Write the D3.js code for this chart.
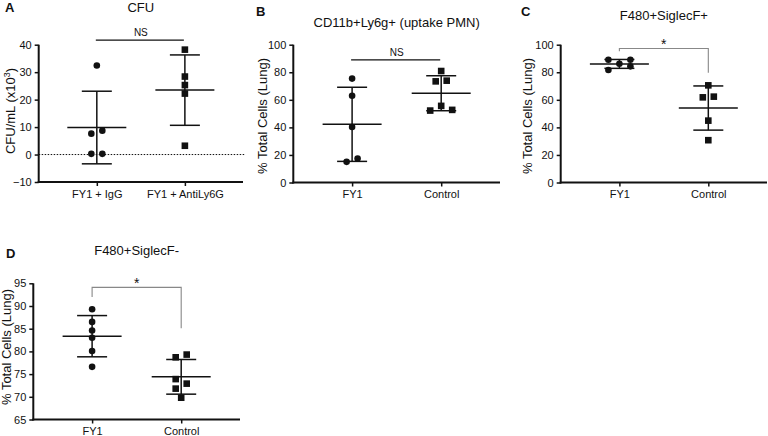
<!DOCTYPE html>
<html><head><meta charset="utf-8">
<script src="https://cdn.jsdelivr.net/npm/d3@7"></script>
<style>
body{margin:0;background:#fff}
svg{display:block}
text{font-family: Arial, "Liberation Sans", sans-serif; fill:#111}
</style>
</head><body><svg id="c" width="768" height="436"></svg>
<script>
// ---------------- data ----------------
const panelLetters = ["A", "B", "C", "D"];
const panelTitles = ["CFU", "CD11b+Ly6g+ (uptake PMN)", "F480+SiglecF+", "F480+SiglecF-"];
const catsA = ["FY1 + IgG", "FY1 + AntiLy6G"];
const catsBCD = ["FY1", "Control"];
const A_IgG = [32.4, 7.6, 8.7, 0.25, 0.25];
const A_Anti = [38.2, 28.4, 25.3, 22.2, 3.2];
const B_FY1 = [75.4, 63.0, 40.3, 15.0, 17.4];
const B_Control = [80.9, 73.4, 73.9, 55.6, 52.7, 52.2];
const C_FY1 = [86.2, 89.1, 84.3, 89.1, 81.6];
const C_Control = [70.5, 61.8, 62.3, 44.9, 30.7];
const D_FY1 = [89.3, 86.5, 84.6, 83.0, 80.1, 76.6];
const D_Control = [78.7, 79.3, 73.9, 72.9, 71.8, 69.8];
const ticksA = [-10, 0, 10, 20, 30, 40];
const ticksBC = [0, 20, 40, 60, 80, 100];
const ticksD = [65, 70, 75, 80, 85, 90, 95];
const yLabelMain = ["CFU/mL (x10", "% Total Cells (Lung)", "% Total Cells (Lung)", "% Total Cells (Lung)"];
const compLabels = ["NS", "NS", "*", "*"];
// comparison line level and bracket leg ends (value units)
const compLevel = [41.7, 89, 97.2, 94.1];
const compLegLeft = [null, null, 95.3, 92.0];
const compLegRight = [null, null, 79.7, 85.1];

// ---------------- layout ----------------
const svg = d3.select("#c");
const panels = [
  {x0: 38.7, x1: 243, yTop: 44.7, yBot: 182, dom: [-10, 40], ticks: ticksA, cats: catsA, groups: [A_IgG, A_Anti],
   letter: [5, 12], titleY: 11.5, labelX: 15, labelY: 111, zero: true},
  {x0: 293.3, x1: 500, yTop: 44.7, yBot: 182.5, dom: [0, 100], ticks: ticksBC, cats: catsBCD, groups: [B_FY1, B_Control],
   letter: [256, 16], titleY: 27, labelX: 266.5, labelY: 116},
  {x0: 560.7, x1: 767, yTop: 44.7, yBot: 182.5, dom: [0, 100], ticks: ticksBC, cats: catsBCD, groups: [C_FY1, C_Control],
   letter: [521, 16], titleY: 20, labelX: 531.5, labelY: 116},
  {x0: 33.3, x1: 240, yTop: 283.3, yBot: 419.5, dom: [65, 95], ticks: ticksD, cats: catsBCD, groups: [D_FY1, D_Control],
   letter: [6, 258], titleY: 255, labelX: 11, labelY: 347}
];

function swarm(vals, y, h, step) {
  const pts = vals.map((v, i) => ({v, i, py: y(v), col: 0, dx: 0}));
  const sorted = pts.slice().sort((a, b) => a.py - b.py);
  const clusters = [];
  let cur = [sorted[0]];
  for (let k = 1; k < sorted.length; k++) {
    if (sorted[k].py - sorted[k - 1].py < h) cur.push(sorted[k]);
    else { clusters.push(cur); cur = [sorted[k]]; }
  }
  clusters.push(cur);
  clusters.forEach(cl => {
    const members = cl.slice().sort((a, b) => a.i - b.i);
    const placed = [];
    members.forEach(p => {
      for (const c of [0, 1, -1, 2, -2, 3, -3]) {
        if (!placed.some(q => q.col === c && Math.abs(q.py - p.py) < h)) { p.col = c; break; }
      }
      placed.push(p);
    });
    const mn = d3.min(members, p => p.col), mx = d3.max(members, p => p.col);
    members.forEach(p => p.dx = (p.col - (mn + mx) / 2) * step);
  });
  return pts;
}

panels.forEach((P, pi) => {
  const g = svg.append("g");
  const y = d3.scaleLinear().domain(P.dom).range([P.yBot, P.yTop]);
  const x = d3.scalePoint().domain(P.cats).range([P.x0, P.x1]).padding(0.66);

  // letter + title
  g.append("text").attr("x", P.letter[0]).attr("y", P.letter[1])
    .style("font-size", "13px").style("font-weight", "bold").text(panelLetters[pi]);
  g.append("text").attr("x", (P.x0 + P.x1) / 2).attr("y", P.titleY).attr("text-anchor", "middle")
    .style("font-size", "13px").text(panelTitles[pi]);

  // y label
  const yl = g.append("text").attr("transform", `translate(${P.labelX},${P.labelY}) rotate(-90)`)
    .attr("text-anchor", "middle").style("font-size", "13px");
  yl.append("tspan").text(yLabelMain[pi]);
  if (pi === 0) {
    yl.append("tspan").attr("dy", -5).style("font-size", "9px").text("3");
    yl.append("tspan").attr("dy", 5).text(")");
  }

  // zero dotted line
  if (P.zero) {
    g.append("line").attr("x1", P.x0).attr("x2", P.x1 + 2).attr("y1", y(0)).attr("y2", y(0))
      .attr("stroke", "#111").attr("stroke-width", 1).attr("stroke-dasharray", "1.5,1.5");
  }

  // axes
  const ya = g.append("g").attr("transform", `translate(${P.x0},0)`)
    .call(d3.axisLeft(y).tickValues(P.ticks).tickSize(4).tickPadding(3).tickSizeOuter(0));
  const xa = g.append("g").attr("transform", `translate(0,${P.yBot})`)
    .call(d3.axisBottom(x).tickSize(4).tickPadding(4).tickSizeOuter(0));
  [ya, xa].forEach(a => {
    a.select(".domain").attr("stroke", "#111").attr("stroke-width", 2);
    a.selectAll(".tick line").attr("stroke", "#111").attr("stroke-width", 1.5);
    a.selectAll(".tick text").style("font-size", "11px").attr("fill", "#111")
      .style("font-family", "Arial, 'Liberation Sans', sans-serif");
  });
  ya.select(".domain").attr("d", `M0,${P.yTop}V${P.yBot + 1}`);
  xa.select(".domain").attr("d", `M${P.x0 - 1},0H${P.x1}`);

  // groups
  P.groups.forEach((vals, gi) => {
    const cx = x(P.cats[gi]);
    const m = d3.mean(vals), sd = d3.deviation(vals);
    const eb = g.append("g").attr("stroke", "#111").attr("stroke-width", 1.5);
    eb.append("line").attr("x1", cx).attr("x2", cx).attr("y1", y(m + sd)).attr("y2", y(m - sd));
    eb.append("line").attr("x1", cx - 29.5).attr("x2", cx + 29.5).attr("y1", y(m)).attr("y2", y(m));
    [m + sd, m - sd].forEach(v => eb.append("line").attr("x1", cx - 15).attr("x2", cx + 15).attr("y1", y(v)).attr("y2", y(v)));
    const pts = swarm(vals, y, 6.5, 11);
    if (gi === 0) {
      g.selectAll(null).data(pts).enter().append("circle")
        .attr("cx", d => cx + d.dx).attr("cy", d => d.py).attr("r", 3.3).attr("fill", "#111");
    } else {
      const s = 6.6;
      g.selectAll(null).data(pts).enter().append("rect")
        .attr("x", d => cx + d.dx - s / 2).attr("y", d => d.py - s / 2).attr("width", s).attr("height", s).attr("fill", "#111");
    }
  });

  // comparison
  const ly = y(compLevel[pi]);
  const xa0 = x(P.cats[0]), xa1 = x(P.cats[1]);
  if (compLegLeft[pi] === null) {
    g.append("line").attr("x1", xa0 - 1).attr("x2", xa1 - 1).attr("y1", ly).attr("y2", ly)
      .attr("stroke", "#111").attr("stroke-width", 1.2);
    g.append("text").attr("x", (xa0 + xa1) / 2).attr("y", ly - 4).attr("text-anchor", "middle")
      .style("font-size", "10px").text(compLabels[pi]);
  } else {
    g.append("path").attr("d", `M${xa0},${y(compLegLeft[pi])}V${ly}H${xa1}V${y(compLegRight[pi])}`)
      .attr("fill", "none").attr("stroke", "#888").attr("stroke-width", 1.1);
    g.append("text").attr("x", (xa0 + xa1) / 2).attr("y", ly + 0.5).attr("text-anchor", "middle")
      .style("font-size", "14px").text(compLabels[pi]);
  }
});
</script>
</body></html>
